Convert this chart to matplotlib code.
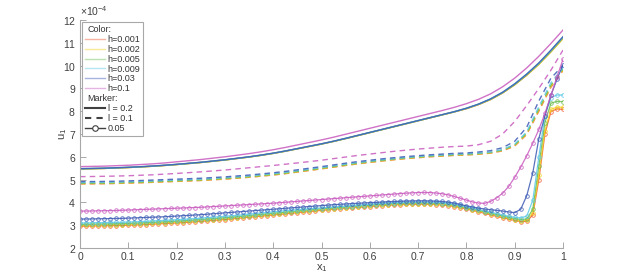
import numpy as np
import matplotlib
matplotlib.use("Agg")
import matplotlib.pyplot as plt
from matplotlib.lines import Line2D
from matplotlib.ticker import ScalarFormatter, MultipleLocator

plt.rcParams['font.family'] = ['Liberation Sans', 'DejaVu Sans']
plt.rcParams['mathtext.fontset'] = 'custom'
plt.rcParams['mathtext.rm'] = 'Liberation Sans'
plt.rcParams['mathtext.it'] = 'Liberation Sans'

# ---------------- data (values in units of 1e-4) ----------------
h_labels = ['h=0.001', 'h=0.002', 'h=0.005', 'h=0.009', 'h=0.03', 'h=0.1']
l_labels = ['l = 0.2', 'l = 0.1', '0.05']
x_line = np.linspace(0, 1, 41)
x_mark = np.linspace(0, 1, 81)

# l = 0.2 (solid)
solid_h0001 = [5.47, 5.48, 5.49, 5.51, 5.53, 5.555, 5.585, 5.62, 5.66, 5.705, 5.75, 5.805, 5.86, 5.925, 5.99, 6.065, 6.15, 6.245, 6.35, 6.455, 6.56, 6.675, 6.80, 6.93, 7.06, 7.19, 7.32, 7.45, 7.58, 7.71, 7.84, 7.97, 8.11, 8.29, 8.51, 8.80, 9.16, 9.58, 10.06, 10.61, 11.20]
solid_h0002 = [5.47, 5.48, 5.49, 5.51, 5.53, 5.555, 5.585, 5.62, 5.66, 5.705, 5.75, 5.805, 5.86, 5.925, 5.99, 6.065, 6.15, 6.245, 6.35, 6.455, 6.56, 6.675, 6.80, 6.93, 7.06, 7.19, 7.32, 7.45, 7.58, 7.71, 7.84, 7.97, 8.11, 8.29, 8.51, 8.80, 9.16, 9.58, 10.05, 10.60, 11.18]
solid_h0005 = [5.47, 5.48, 5.49, 5.51, 5.53, 5.555, 5.585, 5.62, 5.66, 5.705, 5.75, 5.805, 5.86, 5.925, 5.99, 6.065, 6.15, 6.245, 6.35, 6.455, 6.56, 6.675, 6.80, 6.93, 7.06, 7.19, 7.32, 7.45, 7.58, 7.71, 7.84, 7.97, 8.12, 8.30, 8.52, 8.81, 9.17, 9.60, 10.08, 10.63, 11.22]
solid_h0009 = [5.48, 5.49, 5.50, 5.52, 5.54, 5.565, 5.595, 5.63, 5.67, 5.715, 5.76, 5.815, 5.87, 5.935, 6.00, 6.075, 6.16, 6.255, 6.36, 6.465, 6.57, 6.685, 6.81, 6.94, 7.07, 7.20, 7.33, 7.46, 7.59, 7.72, 7.85, 7.98, 8.13, 8.31, 8.54, 8.83, 9.20, 9.63, 10.10, 10.66, 11.25]
solid_h003 = [5.48, 5.49, 5.50, 5.52, 5.54, 5.565, 5.595, 5.63, 5.67, 5.715, 5.76, 5.815, 5.87, 5.935, 6.00, 6.075, 6.16, 6.255, 6.36, 6.465, 6.57, 6.685, 6.81, 6.94, 7.07, 7.20, 7.33, 7.46, 7.59, 7.72, 7.85, 7.98, 8.13, 8.31, 8.54, 8.83, 9.20, 9.63, 10.12, 10.68, 11.27]
solid_h01 = [5.57, 5.58, 5.59, 5.61, 5.63, 5.66, 5.69, 5.73, 5.78, 5.83, 5.88, 5.94, 6.00, 6.07, 6.14, 6.22, 6.31, 6.41, 6.52, 6.63, 6.74, 6.86, 6.99, 7.12, 7.25, 7.38, 7.51, 7.64, 7.77, 7.90, 8.03, 8.17, 8.33, 8.52, 8.76, 9.07, 9.45, 9.90, 10.41, 10.97, 11.56]

# l = 0.1 (dashed)
dash_h0001 = [4.81, 4.815, 4.82, 4.83, 4.845, 4.86, 4.88, 4.90, 4.92, 4.94, 4.96, 4.99, 5.02, 5.06, 5.10, 5.15, 5.20, 5.26, 5.33, 5.40, 5.47, 5.545, 5.62, 5.69, 5.755, 5.815, 5.87, 5.92, 5.96, 6.00, 6.03, 6.06, 6.08, 6.11, 6.16, 6.26, 6.47, 6.98, 8.0, 9.05, 9.78]
dash_h0002 = [4.82, 4.825, 4.83, 4.84, 4.855, 4.87, 4.89, 4.91, 4.93, 4.95, 4.97, 5.00, 5.03, 5.07, 5.11, 5.16, 5.21, 5.27, 5.34, 5.41, 5.48, 5.555, 5.63, 5.70, 5.765, 5.825, 5.88, 5.93, 5.97, 6.01, 6.04, 6.07, 6.09, 6.12, 6.17, 6.28, 6.49, 7.01, 8.05, 9.10, 9.80]
dash_h0005 = [4.84, 4.845, 4.85, 4.86, 4.875, 4.89, 4.91, 4.93, 4.95, 4.97, 4.99, 5.02, 5.05, 5.09, 5.13, 5.18, 5.23, 5.29, 5.36, 5.43, 5.50, 5.575, 5.65, 5.72, 5.785, 5.845, 5.90, 5.95, 5.99, 6.03, 6.06, 6.09, 6.11, 6.14, 6.19, 6.30, 6.52, 7.05, 8.10, 9.15, 9.85]
dash_h0009 = [4.87, 4.875, 4.88, 4.89, 4.905, 4.92, 4.94, 4.96, 4.98, 5.00, 5.02, 5.05, 5.08, 5.12, 5.16, 5.21, 5.26, 5.32, 5.39, 5.46, 5.53, 5.605, 5.68, 5.75, 5.81, 5.87, 5.92, 5.97, 6.01, 6.05, 6.08, 6.11, 6.13, 6.16, 6.21, 6.32, 6.55, 7.10, 8.20, 9.25, 9.90]
dash_h003 = [4.91, 4.915, 4.92, 4.93, 4.945, 4.96, 4.98, 5.00, 5.02, 5.04, 5.06, 5.09, 5.12, 5.16, 5.20, 5.25, 5.30, 5.36, 5.43, 5.50, 5.57, 5.645, 5.72, 5.79, 5.85, 5.91, 5.96, 6.01, 6.05, 6.09, 6.12, 6.15, 6.17, 6.21, 6.27, 6.40, 6.68, 7.30, 8.45, 9.45, 10.00]
dash_h01 = [5.13, 5.135, 5.145, 5.155, 5.17, 5.19, 5.21, 5.24, 5.27, 5.305, 5.34, 5.38, 5.42, 5.47, 5.52, 5.57, 5.62, 5.675, 5.73, 5.79, 5.85, 5.92, 5.99, 6.06, 6.12, 6.18, 6.24, 6.29, 6.34, 6.38, 6.42, 6.45, 6.47, 6.53, 6.68, 7.00, 7.55, 8.25, 9.00, 9.80, 10.68]

# l = 0.05 (line with circles)
mark_h0001 = [2.96, 2.96, 2.965, 2.97, 2.975, 2.98, 2.985, 2.99, 3.00,
              3.01, 3.02, 3.03, 3.045, 3.06, 3.07, 3.085, 3.10,
              3.115, 3.13, 3.15, 3.17, 3.19, 3.21, 3.23, 3.25,
              3.275, 3.30, 3.325, 3.35, 3.375, 3.40, 3.425, 3.45,
              3.475, 3.50, 3.525, 3.55, 3.575, 3.60, 3.625, 3.65,
              3.675, 3.70, 3.72, 3.74, 3.76, 3.78, 3.80, 3.82,
              3.84, 3.86, 3.875, 3.89, 3.90, 3.91, 3.915, 3.92,
              3.92, 3.915, 3.905, 3.89, 3.86, 3.82, 3.77, 3.71,
              3.65, 3.59, 3.52, 3.46, 3.39, 3.33, 3.27, 3.21,
              3.16, 3.17, 3.45, 5.00, 7.00, 7.98, 8.10, 8.08]
mark_h0002 = [3.00, 3.00, 3.005, 3.01, 3.015, 3.02, 3.025, 3.03, 3.04,
              3.05, 3.06, 3.07, 3.085, 3.10, 3.11, 3.125, 3.14,
              3.155, 3.17, 3.19, 3.21, 3.23, 3.25, 3.27, 3.29,
              3.31, 3.335, 3.36, 3.385, 3.41, 3.435, 3.46, 3.485,
              3.51, 3.535, 3.56, 3.585, 3.61, 3.635, 3.66, 3.685,
              3.71, 3.73, 3.75, 3.77, 3.79, 3.81, 3.83, 3.85,
              3.87, 3.89, 3.905, 3.92, 3.93, 3.94, 3.945, 3.95,
              3.95, 3.945, 3.935, 3.92, 3.89, 3.85, 3.80, 3.74,
              3.68, 3.62, 3.56, 3.50, 3.43, 3.37, 3.31, 3.25,
              3.20, 3.21, 3.55, 5.20, 7.15, 8.08, 8.18, 8.17]
mark_h0005 = [3.04, 3.04, 3.045, 3.05, 3.055, 3.06, 3.065, 3.07, 3.08,
              3.09, 3.10, 3.11, 3.125, 3.14, 3.15, 3.165, 3.18,
              3.195, 3.21, 3.23, 3.25, 3.27, 3.29, 3.31, 3.33,
              3.35, 3.375, 3.40, 3.425, 3.45, 3.475, 3.50, 3.525,
              3.55, 3.575, 3.60, 3.625, 3.65, 3.675, 3.70, 3.72,
              3.74, 3.76, 3.78, 3.80, 3.82, 3.84, 3.86, 3.88,
              3.90, 3.92, 3.935, 3.95, 3.96, 3.97, 3.975, 3.98,
              3.98, 3.975, 3.965, 3.95, 3.92, 3.88, 3.83, 3.77,
              3.71, 3.65, 3.59, 3.53, 3.47, 3.41, 3.35, 3.29,
              3.25, 3.27, 3.70, 5.60, 7.50, 8.35, 8.43, 8.42]
mark_h0009 = [3.10, 3.10, 3.105, 3.11, 3.115, 3.12, 3.125, 3.13, 3.14,
              3.15, 3.16, 3.17, 3.185, 3.20, 3.21, 3.225, 3.24,
              3.255, 3.27, 3.29, 3.31, 3.33, 3.35, 3.37, 3.39,
              3.41, 3.435, 3.46, 3.485, 3.51, 3.535, 3.56, 3.585,
              3.61, 3.635, 3.66, 3.68, 3.70, 3.72, 3.74, 3.76,
              3.78, 3.80, 3.82, 3.84, 3.86, 3.88, 3.90, 3.92,
              3.94, 3.96, 3.975, 3.99, 4.00, 4.01, 4.015, 4.02,
              4.02, 4.015, 4.005, 3.99, 3.96, 3.92, 3.87, 3.81,
              3.75, 3.69, 3.63, 3.57, 3.51, 3.45, 3.39, 3.35,
              3.32, 3.40, 4.10, 6.00, 7.80, 8.60, 8.71, 8.71]
mark_h003 = [3.27, 3.27, 3.275, 3.28, 3.285, 3.29, 3.295, 3.30, 3.31,
             3.32, 3.33, 3.34, 3.35, 3.36, 3.37, 3.385, 3.40,
             3.415, 3.43, 3.445, 3.46, 3.48, 3.50, 3.52, 3.54,
             3.56, 3.58, 3.60, 3.62, 3.64, 3.66, 3.68, 3.70,
             3.72, 3.74, 3.76, 3.78, 3.80, 3.82, 3.84, 3.86,
             3.88, 3.90, 3.915, 3.93, 3.945, 3.96, 3.975, 3.99,
             4.00, 4.015, 4.03, 4.04, 4.05, 4.06, 4.065, 4.07,
             4.07, 4.065, 4.055, 4.04, 4.01, 3.97, 3.91, 3.85,
             3.80, 3.75, 3.71, 3.68, 3.65, 3.62, 3.58, 3.55,
             3.70, 4.30, 5.30, 6.80, 7.80, 8.70, 9.40, 10.03]
mark_h01 = [3.62, 3.62, 3.625, 3.63, 3.635, 3.64, 3.645, 3.655, 3.665,
            3.675, 3.685, 3.695, 3.705, 3.715, 3.725, 3.735, 3.745,
            3.755, 3.765, 3.775, 3.785, 3.80, 3.815, 3.83, 3.845,
            3.86, 3.875, 3.89, 3.905, 3.92, 3.935, 3.95, 3.965,
            3.985, 4.005, 4.025, 4.045, 4.065, 4.085, 4.105, 4.125,
            4.145, 4.165, 4.185, 4.205, 4.225, 4.245, 4.265, 4.285,
            4.305, 4.325, 4.345, 4.365, 4.385, 4.405, 4.42, 4.43,
            4.435, 4.43, 4.41, 4.38, 4.33, 4.26, 4.18, 4.10,
            4.02, 3.97, 3.96, 4.04, 4.20, 4.40, 4.70, 5.10,
            5.55, 6.05, 6.60, 7.20, 7.90, 8.70, 9.50, 10.28]

solid_series = [solid_h0001, solid_h0002, solid_h0005, solid_h0009, solid_h003, solid_h01]
dash_series = [dash_h0001, dash_h0002, dash_h0005, dash_h0009, dash_h003, dash_h01]
mark_series = [mark_h0001, mark_h0002, mark_h0005, mark_h0009, mark_h003, mark_h01]

colors = ['#f05a32', '#f2d21e', '#6cbe50', '#5ec8e6', '#3c5ab4', '#c85abe']

# ---------------- figure ----------------
fig = plt.figure(figsize=(6.22, 2.79), dpi=100)
ax = fig.add_axes([80 / 622, 31 / 279, 483 / 622, 228 / 279])
SCALE = 1e-4

for c, s, d, m in zip(colors, solid_series, dash_series, mark_series):
    ax.plot(x_line, np.array(s) * SCALE, color=c, lw=1.0, alpha=0.85)
    ax.plot(x_line, np.array(d) * SCALE, color=c, lw=1.0, ls=(0, (4, 3)), alpha=0.85)
    ax.plot(x_mark, np.array(m) * SCALE, color=c, lw=0.9, alpha=0.85,
            marker='o', ms=2.6, mfc='none', mew=0.6)

ax.set_xlim(0, 1)
ax.set_ylim(2 * SCALE, 12 * SCALE)
ax.xaxis.set_major_locator(MultipleLocator(0.1))
ax.yaxis.set_major_locator(MultipleLocator(1 * SCALE))
fmt = ScalarFormatter(useMathText=True)
fmt.set_powerlimits((-4, -4))
ax.yaxis.set_major_formatter(fmt)
ax.xaxis.set_major_formatter(plt.FuncFormatter(lambda v, p: ('%g' % round(v, 2))))

for sp in ['top', 'right']:
    ax.spines[sp].set_visible(False)
for sp in ['left', 'bottom']:
    ax.spines[sp].set_color('#a8a8a8')
    ax.spines[sp].set_linewidth(0.8)
ax.tick_params(direction='in', length=4, width=0.7, color='#a8a8a8',
               labelsize=7.5, labelcolor='#404040', pad=3)
ax.yaxis.get_offset_text().set_fontsize(7.5)
ax.yaxis.get_offset_text().set_color('#404040')

ax.set_xlabel('x$_1$', fontsize=8, color='#404040', labelpad=0)
ax.set_ylabel('u$_1$', fontsize=8, color='#404040')
ax.yaxis.set_label_coords(-0.022, 0.5)

# ---------------- legend ----------------
handles = [Line2D([], [], ls='none', label='Color:')]
for c, lab in zip(colors, h_labels):
    handles.append(Line2D([], [], color=c, lw=1.0, alpha=0.45, label=lab))
handles.append(Line2D([], [], ls='none', label='Marker:'))
handles.append(Line2D([], [], color='#404040', lw=1.5, label=l_labels[0]))
handles.append(Line2D([], [], color='#404040', lw=1.5, ls=(0, (3, 2.5)), label=l_labels[1]))
handles.append(Line2D([], [], color='#404040', lw=1.0, marker='o', ms=4,
                      mfc='white', mew=0.8, label=l_labels[2]))
leg = ax.legend(handles=handles, loc='upper left', bbox_to_anchor=(0.0, 1.0),
                fontsize=6.5, frameon=True, fancybox=False, framealpha=1,
                edgecolor='#a8a8a8', borderpad=0.35, labelspacing=0.1,
                handlelength=2.2, handletextpad=0.3, borderaxespad=0.2)
leg.get_frame().set_linewidth(0.8)
for t in leg.get_texts():
    t.set_color('#333333')

# pull header rows to the left edge
try:
    for hp in leg._legend_handle_box.get_children()[0].get_children():
        kids = hp.get_children()
        txt = kids[1].get_children()[0].get_text() if hasattr(kids[1], 'get_children') else ''
        if txt in ('Color:', 'Marker:'):
            kids[0].width = 0
except Exception:
    pass

fig.savefig('out.png', dpi=100)
